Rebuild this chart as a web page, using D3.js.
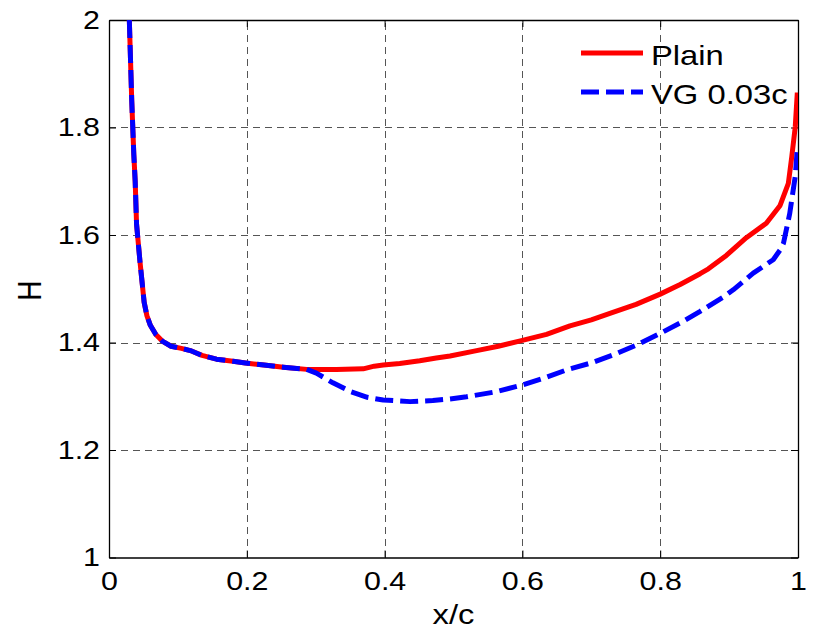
<!DOCTYPE html>
<html>
<head>
<meta charset="utf-8">
<script src="https://cdn.jsdelivr.net/npm/d3@7"></script>
<style>
  html, body { margin: 0; padding: 0; background: #fff; }
  svg { display: block; }
  text { font-family: "Liberation Sans", Arial, Helvetica, sans-serif; fill: #000; }
</style>
</head>
<body>
<svg id="chart" width="813" height="630"></svg>
<script>
// ---- data ----
const xTicks = [0, 0.2, 0.4, 0.6, 0.8, 1];
const yTicks = [1, 1.2, 1.4, 1.6, 1.8, 2];
const xTickLabels = ["0", "0.2", "0.4", "0.6", "0.8", "1"];
const yTickLabels = ["1", "1.2", "1.4", "1.6", "1.8", "2"];
const seriesNames = ["Plain", "VG 0.03c"];

// shared leading-edge part
const leX = [0.0295, 0.033, 0.036, 0.038, 0.040, 0.045, 0.051, 0.055, 0.060, 0.068, 0.078, 0.090, 0.105, 0.118, 0.135, 0.156, 0.180, 0.198, 0.225, 0.253, 0.287];
const leH = [2.00, 1.85, 1.75, 1.70, 1.62, 1.55, 1.475, 1.45, 1.432, 1.415, 1.402, 1.393, 1.389, 1.385, 1.376, 1.369, 1.365, 1.362, 1.358, 1.354, 1.350];

const plainX = leX.concat([0.30, 0.33, 0.369, 0.385, 0.398, 0.422, 0.451, 0.475, 0.495, 0.53, 0.565, 0.600, 0.635, 0.669, 0.70, 0.727, 0.765, 0.800, 0.829, 0.858, 0.870, 0.896, 0.925, 0.954, 0.974, 0.986, 0.991, 0.996, 0.999]);
const plainH = leH.concat([1.350, 1.350, 1.351, 1.356, 1.358, 1.361, 1.366, 1.371, 1.375, 1.384, 1.393, 1.404, 1.415, 1.431, 1.442, 1.454, 1.471, 1.490, 1.508, 1.528, 1.537, 1.562, 1.595, 1.622, 1.655, 1.696, 1.746, 1.801, 1.865]);

const vgX = leX.concat([0.301, 0.325, 0.350, 0.375, 0.398, 0.437, 0.470, 0.495, 0.519, 0.560, 0.600, 0.632, 0.664, 0.700, 0.732, 0.765, 0.800, 0.830, 0.858, 0.892, 0.906, 0.935, 0.964, 0.974, 0.979, 0.988, 0.996, 0.999]);
const vgH = leH.concat([1.343, 1.325, 1.309, 1.298, 1.293, 1.290, 1.292, 1.295, 1.299, 1.308, 1.321, 1.334, 1.349, 1.362, 1.377, 1.395, 1.417, 1.437, 1.458, 1.485, 1.498, 1.529, 1.554, 1.572, 1.585, 1.640, 1.709, 1.761]);

// ---- layout ----
const svg = d3.select("#chart");
const L = 109, R = 798, T = 20, B = 557.5;
const SX = 1.17; // horizontal stretch of the reference's lettering
const x = d3.scaleLinear().domain([0, 1]).range([L, R]);
const y = d3.scaleLinear().domain([1, 2]).range([B, T]);

svg.append("defs").append("clipPath").attr("id", "clip")
  .append("rect").attr("x", L).attr("y", T).attr("width", R - L).attr("height", B - T);

// grid
const grid = svg.append("g").attr("stroke", "#555").attr("stroke-width", 1)
  .attr("stroke-dasharray", "7,5").attr("shape-rendering", "crispEdges");
grid.selectAll("line.v").data(xTicks.slice(1, -1)).join("line")
  .attr("x1", d => Math.round(x(d)) + 0.5).attr("x2", d => Math.round(x(d)) + 0.5)
  .attr("y1", B).attr("y2", T);
grid.selectAll("line.h").data(yTicks.slice(1, -1)).join("line")
  .attr("y1", d => Math.round(y(d)) + 0.5).attr("y2", d => Math.round(y(d)) + 0.5)
  .attr("x1", L).attr("x2", R);

// axes (ticks inward)
const tickLen = 7;
const fmtX = (d, i) => xTickLabels[i];
const fmtY = (d, i) => yTickLabels[i];
const xAxis = svg.append("g").attr("transform", `translate(0,${B})`)
  .call(d3.axisBottom(x).tickValues(xTicks).tickFormat(fmtX).tickSizeInner(-tickLen).tickSizeOuter(0).tickPadding(14));
const yAxis = svg.append("g").attr("transform", `translate(${L},0)`)
  .call(d3.axisLeft(y).tickValues(yTicks).tickFormat(fmtY).tickSizeInner(-tickLen).tickSizeOuter(0).tickPadding(9));
const xTop = svg.append("g").attr("transform", `translate(0,${T})`)
  .call(d3.axisTop(x).tickValues(xTicks).tickFormat("").tickSizeInner(-tickLen).tickSizeOuter(0));
const yRight = svg.append("g").attr("transform", `translate(${R},0)`)
  .call(d3.axisRight(y).tickValues(yTicks).tickFormat("").tickSizeInner(-tickLen).tickSizeOuter(0));
[xAxis, yAxis, xTop, yRight].forEach(g => {
  g.selectAll(".domain").attr("stroke", "#000").attr("stroke-width", 1.3);
  g.selectAll(".tick line").attr("stroke", "#000").attr("stroke-width", 1);
  g.selectAll("text").attr("font-size", 26).attr("font-family", "'Liberation Sans', Arial, sans-serif").attr("fill", "#000");
});
// stretch tick labels horizontally, keeping anchors
xAxis.selectAll(".tick text").attr("transform", `scale(${SX},1)`);
yAxis.selectAll(".tick text").each(function () {
  const t = d3.select(this);
  t.attr("x", +t.attr("x") / SX).attr("transform", `scale(${SX},1)`);
});

// axis labels
svg.append("text").attr("transform", `translate(${(L + R) / 2},624) scale(${SX},1)`)
  .attr("text-anchor", "middle").attr("font-size", 28).text("x/c");
svg.append("text").attr("transform", `translate(41,${(T + B) / 2 + 2}) scale(${SX},1) rotate(-90)`)
  .attr("text-anchor", "middle").attr("font-size", 28).text("H");

// lines
const line = d3.line().x(d => x(d[0])).y(d => y(d[1])).curve(d3.curveLinear);
const plainData = plainX.map((v, i) => [v, plainH[i]]);
const vgData = vgX.map((v, i) => [v, vgH[i]]);
const plot = svg.append("g").attr("clip-path", "url(#clip)");
plot.append("path").datum(plainData).attr("d", line)
  .attr("fill", "none").attr("stroke", "#ff0000").attr("stroke-width", 5).attr("stroke-linejoin", "round");
plot.append("path").datum(vgData).attr("d", line)
  .attr("fill", "none").attr("stroke", "#0000ff").attr("stroke-width", 5).attr("stroke-dasharray", "18,7").attr("stroke-linejoin", "round");

// legend
const leg = svg.append("g");
const legItems = [
  { name: seriesNames[0], color: "#ff0000", dash: null, y: 53 },
  { name: seriesNames[1], color: "#0000ff", dash: "18,7", y: 92 }
];
legItems.forEach(it => {
  leg.append("line").attr("x1", 581).attr("x2", 643).attr("y1", it.y).attr("y2", it.y)
    .attr("stroke", it.color).attr("stroke-width", 5).attr("stroke-dasharray", it.dash);
  leg.append("text").attr("transform", `translate(651,${it.y + 12}) scale(${SX},1)`)
    .attr("font-size", 28).text(it.name);
});
</script>
</body>
</html>
